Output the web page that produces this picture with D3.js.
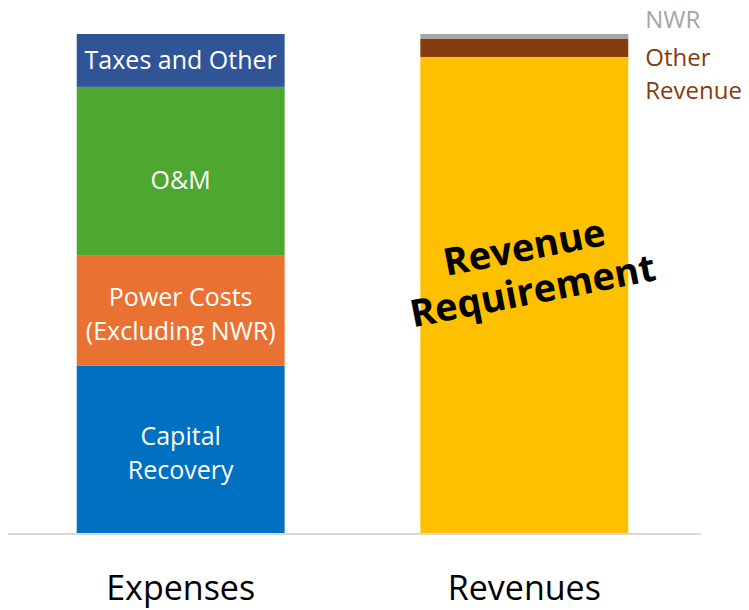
<!DOCTYPE html>
<html>
<head>
<meta charset="utf-8">
<script src="https://cdn.jsdelivr.net/npm/d3@7"></script>
<style>
  body { margin: 0; background: #fff; }
  text { font-family: "Open Sans", "Noto Sans", sans-serif; }
</style>
</head>
<body>
<div id="chart"></div>
<script>
// categories and stacked values (share of total, %)
const categories = ["Expenses", "Revenues"];
const expenseParts = ["Capital Recovery", "Power Costs", "O&M", "Taxes and Other"];
const expenseValues = [33.5, 22.2, 33.7, 10.6];
const revenueParts = ["Revenue Requirement", "Other Revenue", "NWR"];
const revenueValues = [95.4, 3.6, 1.0];

const expenseColors = ["#0070C0", "#E97132", "#4EA72E", "#2F5597"];
const revenueColors = ["#FFC000", "#843C0C", "#A5A5A5"];

const width = 749, height = 610;
const baseY = 533, topY = 34;

const svg = d3.select("#chart").append("svg")
    .attr("width", width)
    .attr("height", height);

const x = d3.scaleBand()
    .domain(categories)
    .range([8, 697])
    .paddingInner(0.395)
    .paddingOuter(0.2);

const y = d3.scaleLinear()
    .domain([0, 100])
    .range([baseY, topY]);

function stackUp(names, values, colors) {
    let acc = 0;
    return names.map((n, i) => {
        const d = { name: n, y0: acc, y1: acc + values[i], color: colors[i] };
        acc += values[i];
        return d;
    });
}

const expStack = stackUp(expenseParts, expenseValues, expenseColors);
const revStack = stackUp(revenueParts, revenueValues, revenueColors);

svg.selectAll(".exp")
    .data(expStack)
    .enter()
    .append("rect")
    .attr("class", "exp")
    .attr("x", x("Expenses"))
    .attr("width", x.bandwidth())
    .attr("y", d => y(d.y1))
    .attr("height", d => y(d.y0) - y(d.y1))
    .attr("fill", d => d.color);

svg.selectAll(".rev")
    .data(revStack)
    .enter()
    .append("rect")
    .attr("class", "rev")
    .attr("x", x("Revenues"))
    .attr("width", x.bandwidth())
    .attr("y", d => y(d.y1))
    .attr("height", d => y(d.y0) - y(d.y1))
    .attr("fill", d => d.color);

// labels inside the expense bar
const expLabels = [["Capital", "Recovery"], ["Power Costs", "(Excluding NWR)"], ["O&M"], ["Taxes and Other"]];
const labelShift = [4, 4, 9, 0];
const cx = x("Expenses") + x.bandwidth() / 2;
expStack.forEach((d, i) => {
    const lines = expLabels[i];
    const mid = (y(d.y0) + y(d.y1)) / 2 + labelShift[i];
    const lh = 34;
    lines.forEach((t, j) => {
        svg.append("text")
            .attr("x", cx)
            .attr("y", mid + (j - (lines.length - 1) / 2) * lh)
            .attr("dy", "0.35em")
            .attr("text-anchor", "middle")
            .attr("fill", "#fff")
            .style("font-size", "25px")
            .text(t);
    });
});

// big rotated label on revenue requirement
const rx = x("Revenues") + x.bandwidth() / 2 + 4;
const rl = svg.append("g")
    .attr("transform", `translate(${rx},${268}) rotate(-11)`);
rl.append("text")
    .attr("x", 0).attr("y", -21)
    .attr("text-anchor", "middle")
    .attr("dy", "0.35em")
    .style("font-size", "38px")
    .style("font-weight", "bold")
    .text("Revenue");
rl.append("text")
    .attr("x", 0).attr("y", 23)
    .attr("text-anchor", "middle")
    .attr("dy", "0.35em")
    .style("font-size", "38px")
    .style("font-weight", "bold")
    .text("Requirement");

// side labels for small revenue pieces
const lx = x("Revenues") + x.bandwidth() + 17;
svg.append("text")
    .attr("x", lx).attr("y", 28)
    .attr("fill", "#A5A5A5")
    .style("font-size", "24px")
    .text("NWR");
svg.append("text")
    .attr("x", lx).attr("y", 66)
    .attr("fill", "#843C0C")
    .style("font-size", "24px")
    .text("Other");
svg.append("text")
    .attr("x", lx).attr("y", 99)
    .attr("fill", "#843C0C")
    .style("font-size", "24px")
    .text("Revenue");

// baseline axis
const axis = svg.append("g")
    .attr("transform", `translate(0,${baseY})`)
    .call(d3.axisBottom(x).tickSize(0).tickPadding(43));
axis.select(".domain")
    .attr("d", "M8,1H701")
    .attr("stroke", "#d9d9d9")
    .attr("stroke-width", 2);
axis.selectAll("text")
    .attr("fill", "#000")
    .style("font-size", "34px")
    .style("font-family", "'Open Sans', 'Noto Sans', sans-serif");
</script>
</body>
</html>
